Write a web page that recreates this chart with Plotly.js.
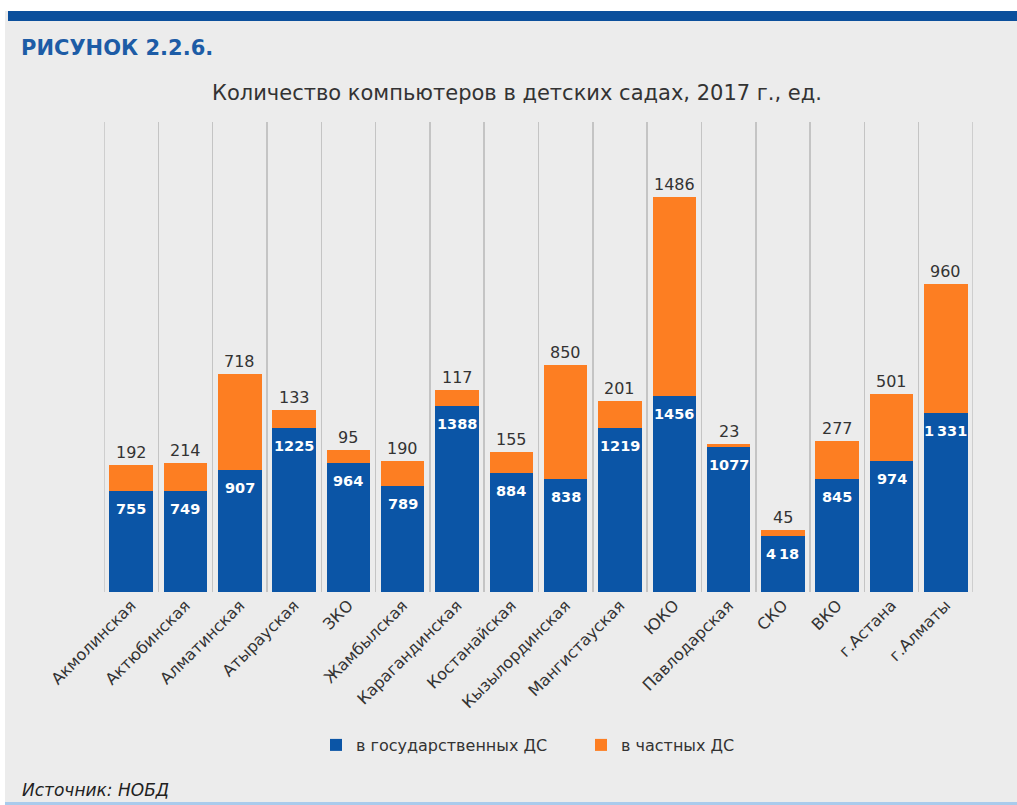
<!DOCTYPE html>
<html>
<head>
<meta charset="utf-8">
<script src="https://cdn.plot.ly/plotly-3.0.1.min.js"></script>
<style>
  html, body { margin: 0; padding: 0; background: #ffffff; }
  #chart { width: 1017px; height: 805px; }
</style>
</head>
<body>
<div id="chart"></div>
<script>
const categories = ["Акмолинская", "Актюбинская", "Алматинская", "Атырауская", "ЗКО", "Жамбылская",
  "Карагандинская", "Костанайская", "Кызылординская", "Мангистауская", "ЮКО", "Павлодарская",
  "СКО", "ВКО", "г.Астана", "г.Алматы"];
const stateValues = [755, 749, 907, 1225, 964, 789, 1388, 884, 838, 1219, 1456, 1077, 418, 845, 974, 1331];
const stateLabels = ["755", "749", "907", "1225", "964", "789", "1388", "884", "838", "1219", "1456", "1077", "4\u200918", "845", "974", "1\u2009331"];
const privateValues = [192, 214, 718, 133, 95, 190, 117, 155, 850, 201, 1486, 23, 45, 277, 501, 960];
const seriesNames = ["в государственных ДС", "в частных ДС"];

const W = 1017, H = 805;
const M = { l: 104, r: 44, t: 122, b: 213 };
const PW = W - M.l - M.r, PH = H - M.t - M.b;
const px = x => (x - M.l) / PW;
const py = y => 1 - (y - M.t) / PH;

const FONT = "DejaVu Sans, Verdana, sans-serif";
const BLUE = "#0b55a6", ORANGE = "#fd7e22";

const traces = [
  { type: "bar", name: seriesNames[0], x: categories, y: stateValues,
    marker: { color: BLUE }, hoverinfo: "x+y" },
  { type: "bar", name: seriesNames[1], x: categories, y: privateValues,
    marker: { color: ORANGE }, hoverinfo: "x+y" }
];

const annotations = [];
categories.forEach((c, i) => {
  annotations.push({ x: c, y: stateValues[i], xref: "x", yref: "y", text: stateLabels[i],
    showarrow: false, yanchor: "top", yshift: -8,
    font: { family: FONT, size: 14.5, color: "#ffffff", weight: "bold" } });
  annotations.push({ x: c, y: stateValues[i] + privateValues[i], xref: "x", yref: "y",
    text: String(privateValues[i]), showarrow: false, yanchor: "bottom", yshift: 1,
    font: { family: FONT, size: 16, color: "#333333" } });
});
annotations.push({ xref: "paper", yref: "paper", x: px(19), y: py(48), xanchor: "left", yanchor: "middle",
  text: "<b>РИСУНОК 2.2.6.</b>", showarrow: false,
  font: { family: FONT, size: 21, color: "#1d5ca6" } });
annotations.push({ xref: "paper", yref: "paper", x: px(517), y: py(93), xanchor: "center", yanchor: "middle",
  text: "Количество компьютеров в детских садах, 2017 г., ед.", showarrow: false,
  font: { family: FONT, size: 21, color: "#333333" } });
annotations.push({ xref: "paper", yref: "paper", x: px(20), y: py(790), xanchor: "left", yanchor: "middle",
  text: "<i>Источник: НОБД</i>", showarrow: false,
  font: { family: FONT, size: 17, color: "#222222" } });

const shapes = [
  { type: "rect", xref: "paper", yref: "paper", layer: "below",
    x0: px(5), x1: px(W), y0: py(0), y1: py(H), fillcolor: "#ececec", line: { width: 0 } },
  { type: "rect", xref: "paper", yref: "paper", layer: "below",
    x0: px(5), x1: px(W), y0: py(0), y1: py(11), fillcolor: "#ffffff", line: { width: 0 } },
  { type: "rect", xref: "paper", yref: "paper", layer: "below",
    x0: px(8), x1: px(W), y0: py(11), y1: py(21), fillcolor: "#0b4f9c", line: { width: 0 } },
  { type: "rect", xref: "paper", yref: "paper", layer: "below",
    x0: px(5), x1: px(W), y0: py(802), y1: py(H), fillcolor: "#a9cbec", line: { width: 0 } },
  { type: "line", xref: "x", yref: "paper", layer: "below",
    x0: -0.5, x1: -0.5, y0: 0, y1: 1, line: { color: "#c4c4c4", width: 1.5 } },
  { type: "line", xref: "x", yref: "paper", layer: "below",
    x0: categories.length - 0.5, x1: categories.length - 0.5, y0: 0, y1: 1, line: { color: "#c4c4c4", width: 1.5 } }
];

const layout = {
  width: W, height: H,
  margin: M,
  paper_bgcolor: "#ffffff",
  plot_bgcolor: "rgba(0,0,0,0)",
  barmode: "stack",
  bargap: 0.2,
  font: { family: FONT, color: "#333333" },
  xaxis: {
    type: "category",
    tickson: "boundaries",
    showgrid: true, gridcolor: "#c4c4c4", gridwidth: 1.5,
    ticks: "", tickangle: -45,
    tickfont: { family: FONT, size: 16, color: "#333333" },
    showline: false, zeroline: false,
    range: [-0.5, 15.5], fixedrange: true
  },
  yaxis: {
    range: [0, 3500], visible: false, showgrid: false, zeroline: false, fixedrange: true
  },
  showlegend: true,
  legend: {
    orientation: "h", xref: "container", yref: "container",
    x: 316 / W, xanchor: "left", y: 1 - 745 / H, yanchor: "middle",
    bgcolor: "rgba(0,0,0,0)",
    font: { family: FONT, size: 16, color: "#333333" },
    itemwidth: 30, entrywidth: 220, traceorder: "normal"
  },
  annotations: annotations,
  shapes: shapes
};

Plotly.newPlot("chart", traces, layout, { displayModeBar: false, staticPlot: true });
</script>
</body>
</html>
